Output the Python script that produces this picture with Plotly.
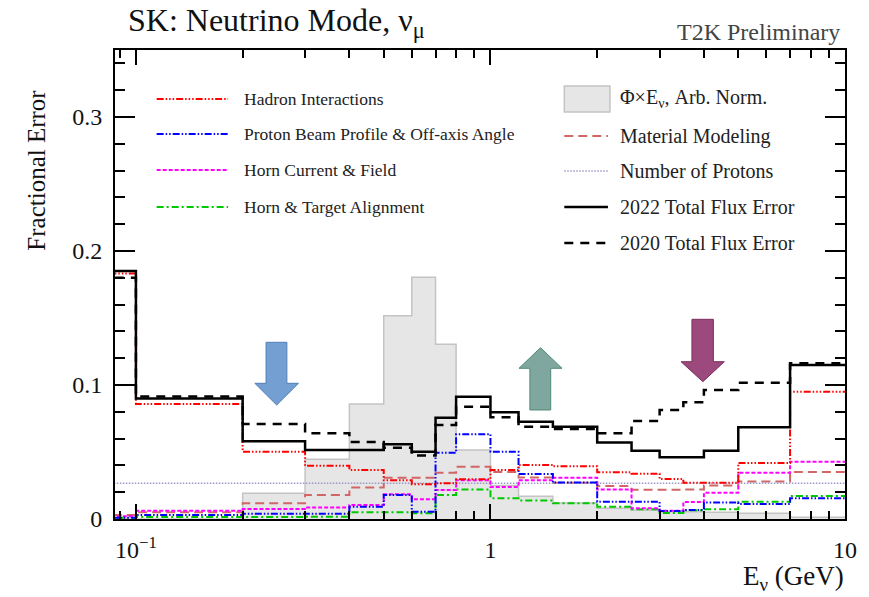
import plotly.graph_objects as go

# ---------------- data ----------------
# lowest bin edge is 0 GeV; it lies off the log axis so a small stand-in is used
bin_edges = [0.001, 0.1, 0.2, 0.3, 0.4, 0.5, 0.6, 0.7, 0.8, 1.0, 1.2, 1.5,
             2.0, 2.5, 3.0, 3.5, 4.0, 5.0, 7.0, 10.0]

flux_arb = [0.0, 0.0, 0.0192, 0.0446, 0.0858, 0.1517, 0.1804, 0.1304, 0.0515,
            0.025, 0.017, 0.012, 0.008, 0.0065, 0.0055, 0.0055, 0.005, 0.0042, 0.0013]
total_2022 = [0.185, 0.090, 0.058, 0.0515, 0.0515, 0.0557, 0.0502, 0.0756, 0.0913,
              0.0796, 0.0726, 0.0689, 0.0570, 0.0510, 0.0460, 0.0460, 0.0510, 0.0684, 0.1150]
total_2020 = [0.180, 0.0915, 0.0709, 0.0640, 0.0575, 0.0532, 0.0473, 0.0701, 0.0838,
              0.0759, 0.0689, 0.0672, 0.0639, 0.0731, 0.0813, 0.0871, 0.0963, 0.1017, 0.1162]
hadron = [0.1833, 0.0858, 0.0502, 0.0398, 0.0366, 0.0290, 0.0259, 0.0266, 0.0296,
          0.0366, 0.0403, 0.0394, 0.0348, 0.0338, 0.0298, 0.0270, 0.0270, 0.0418, 0.0950]
proton_beam = [0.001, 0.003, 0.004, 0.004, 0.0092, 0.0179, 0.0055, 0.0495, 0.0632,
               0.0502, 0.0336, 0.0272, 0.0129, 0.0129, 0.0060, 0.0067, 0.0123, 0.0112, 0.0154]
horn_current = [0.002, 0.0062, 0.0075, 0.0085, 0.0105, 0.0184, 0.0147, 0.0216, 0.0290,
                0.0238, 0.0290, 0.0308, 0.0221, 0.0080, 0.0062, 0.0126, 0.0196, 0.0346, 0.0427]
alignment = [0.001, 0.0015, 0.0015, 0.0017, 0.0050, 0.0050, 0.0042, 0.0180, 0.0221,
             0.0154, 0.0138, 0.0117, 0.0092, 0.0072, 0.0045, 0.0066, 0.0073, 0.0129, 0.0172]
material = [0.003, 0.005, 0.0117, 0.0179, 0.0236, 0.0308, 0.0308, 0.0346, 0.0390,
            0.0350, 0.0310, 0.0270, 0.0246, 0.0218, 0.0218, 0.0220, 0.0250, 0.0279, 0.0350]
n_protons = [0.0266, 0.0266, 0.0266, 0.0266, 0.0266, 0.0266, 0.0266, 0.0266, 0.0266,
             0.0266, 0.0266, 0.0266, 0.0266, 0.0266, 0.0266, 0.0266, 0.0266, 0.0266, 0.0266]

x_tick_vals = [0.1, 1, 10]
x_tick_text = ["10<sup>−1</sup>", "1", "10"]
x_minor_vals = [0.09, 0.2, 0.3, 0.4, 0.5, 0.6, 0.7, 0.8, 0.9, 2, 3, 4, 5, 6, 7, 8, 9]
y_tick_vals = [0, 0.1, 0.2, 0.3]
y_tick_text = ["0", "0.1", "0.2", "0.3"]
y_minor_vals = [0.02, 0.04, 0.06, 0.08, 0.12, 0.14, 0.16, 0.18, 0.22, 0.24, 0.26, 0.28,
                0.32, 0.34]

# ---------------- styling ----------------
FONT = "Liberation Serif"
W, H = 869, 597
L, R, T, B = 115, 851, 50, 519


def px(x):
    return (x - L) / (R - L)


def py(y):
    return (B - y) / (B - T)


def step_y(vals):
    return list(vals) + [vals[-1]]


series = [
    ("Material Modeling", material, "#d06666", 2.0, "9px,5px"),
    ("Number of Protons", n_protons, "#9a9ac8", 1.5, "1.5px,1.5px"),
    ("Horn & Target Alignment", alignment, "#00c800", 2.0, "7px,3px,2px,3px"),
    ("Horn Current & Field", horn_current, "#ff00ff", 2.0, "4px,2px"),
    ("Proton Beam Profile & Off-axis Angle", proton_beam, "#0000ff", 2.0,
     "7px,2px,1.5px,2px,1.5px,2px"),
    ("Hadron Interactions", hadron, "#ff0000", 2.0,
     "7px,2px,1.5px,2px,1.5px,2px,1.5px,2px"),
    ("2020 Total Flux Error", total_2020, "#000000", 2.5, "9px,7px"),
    ("2022 Total Flux Error", total_2022, "#000000", 2.5, "solid"),
]

fig = go.Figure()

fig.add_trace(go.Scatter(
    x=bin_edges, y=step_y(flux_arb), mode="lines", name="Φ×Eν, Arb. Norm.",
    line=dict(shape="hv", color="#c4c4c4", width=1.5),
    fill="tozeroy", fillcolor="#e6e6e6", showlegend=False, hoverinfo="skip"))

for name, vals, color, width, dash in series:
    fig.add_trace(go.Scatter(
        x=bin_edges, y=step_y(vals), mode="lines", name=name,
        line=dict(shape="hv", color=color, width=width, dash=dash),
        showlegend=False))

shapes = []
annotations = []

# ---- arrows (decorations) ----
def arrow_path(pts):
    return "M " + " L ".join(f"{px(x):.5f},{py(y):.5f}" for x, y in pts) + " Z"

arrows = [
    ([(267.3, 342.3), (288.3, 342.3), (288.3, 383.3), (300, 383.3), (278, 405),
      (256, 383.3), (267.3, 383.3)], "#749fd2", "#4f7fb8"),
    ([(533.3, 410), (554.3, 410), (554.3, 368.3), (565.7, 368.3), (544, 347.7),
      (522.3, 368.3), (533.3, 368.3)], "#7fa79f", "#4f8a78"),
    ([(696.7, 319.3), (718.3, 319.3), (718.3, 361.7), (729.3, 361.7), (707.7, 381.7),
      (685.7, 361.7), (696.7, 361.7)], "#9c4a7e", "#7b2f5f"),
]
for pts, fc, lc in arrows:
    shapes.append(dict(type="path", xref="paper", yref="paper", path=arrow_path(pts),
                       fillcolor=fc, line=dict(color=lc, width=1), layer="above"))

# ---- legend (left block) ----
left_entries = [
    ("Hadron Interactions", "#ff0000", 2.0, "7px,2px,1.5px,2px,1.5px,2px,1.5px,2px", 99),
    ("Proton Beam Profile & Off-axis Angle", "#0000ff", 2.0, "7px,2px,1.5px,2px,1.5px,2px", 134),
    ("Horn Current & Field", "#ff00ff", 2.0, "4px,2px", 170),
    ("Horn & Target Alignment", "#00c800", 2.0, "7px,3px,2px,3px", 207),
]
for text, color, width, dash, yy in left_entries:
    shapes.append(dict(type="line", xref="paper", yref="paper", x0=px(157), x1=px(229),
                       y0=py(yy), y1=py(yy), line=dict(color=color, width=width, dash=dash)))
    annotations.append(dict(text=text, x=px(243), y=py(yy), xref="paper", yref="paper",
                            xanchor="left", yanchor="middle", showarrow=False,
                            font=dict(family=FONT, size=17.5, color="#222")))

# ---- legend (right block) ----
shapes.append(dict(type="rect", xref="paper", yref="paper", x0=px(568), x1=px(614),
                   y0=py(112), y1=py(86), fillcolor="#e6e6e6",
                   line=dict(color="#c4c4c4", width=1.5)))
annotations.append(dict(text="Φ×E<sub>ν</sub>, Arb. Norm.", x=px(622), y=py(99),
                        xref="paper", yref="paper", xanchor="left", yanchor="middle",
                        showarrow=False, font=dict(family=FONT, size=20, color="#222")))
right_entries = [
    ("Material Modeling", "#d06666", 2.0, "9px,5px", 136),
    ("Number of Protons", "#9a9ac8", 1.5, "1.5px,1.5px", 171),
    ("2022 Total Flux Error", "#000000", 2.5, "solid", 207),
    ("2020 Total Flux Error", "#000000", 2.5, "9px,7px", 243),
]
for text, color, width, dash, yy in right_entries:
    shapes.append(dict(type="line", xref="paper", yref="paper", x0=px(568), x1=px(612),
                       y0=py(yy), y1=py(yy), line=dict(color=color, width=width, dash=dash)))
    annotations.append(dict(text=text, x=px(622), y=py(yy), xref="paper", yref="paper",
                            xanchor="left", yanchor="middle", showarrow=False,
                            font=dict(family=FONT, size=20, color="#222")))

# ---- titles ----
annotations.append(dict(text="SK: Neutrino Mode, ν<sub>μ</sub>", x=px(126), y=py(22),
                        xref="paper", yref="paper", xanchor="left", yanchor="middle",
                        showarrow=False, font=dict(family=FONT, size=32, color="#111")))
annotations.append(dict(text="T2K Preliminary", x=px(848), y=py(32),
                        xref="paper", yref="paper", xanchor="right", yanchor="middle",
                        showarrow=False, font=dict(family=FONT, size=24, color="#444")))
annotations.append(dict(text="Fractional Error", x=px(35), y=py(170), textangle=-90,
                        xref="paper", yref="paper", xanchor="center", yanchor="middle",
                        showarrow=False, font=dict(family=FONT, size=25, color="#111")))
annotations.append(dict(text="E<sub>ν</sub> (GeV)", x=px(852), y=py(578),
                        xref="paper", yref="paper", xanchor="right", yanchor="middle",
                        showarrow=False, font=dict(family=FONT, size=27, color="#111")))

fig.update_layout(
    width=W, height=H,
    margin=dict(l=L, r=W - R, t=T, b=H - B, pad=0),
    paper_bgcolor="white", plot_bgcolor="white",
    showlegend=False,
    shapes=shapes, annotations=annotations,
    xaxis=dict(type="log", range=[-1.059, 1.0],
               tickmode="array", tickvals=x_tick_vals, ticktext=x_tick_text,
               ticks="inside", ticklen=15, tickwidth=1.5, tickcolor="black",
               minor=dict(tickmode="array", tickvals=x_minor_vals, ticks="inside",
                          ticklen=8, tickwidth=1.5, tickcolor="black"),
               showline=True, linecolor="black", linewidth=2, mirror="allticks",
               showgrid=False, zeroline=False, ticklabelstandoff=8,
               tickfont=dict(family=FONT, size=24, color="#111")),
    yaxis=dict(range=[0, 0.35],
               tickmode="array", tickvals=y_tick_vals, ticktext=y_tick_text,
               ticks="inside", ticklen=20, tickwidth=1.5, tickcolor="black",
               minor=dict(tickmode="array", tickvals=y_minor_vals, ticks="inside",
                          ticklen=10, tickwidth=1.5, tickcolor="black"),
               showline=True, linecolor="black", linewidth=2, mirror="allticks",
               showgrid=False, zeroline=False, ticklabelstandoff=6,
               tickfont=dict(family=FONT, size=24, color="#111")),
)

fig.write_html("out.html")
